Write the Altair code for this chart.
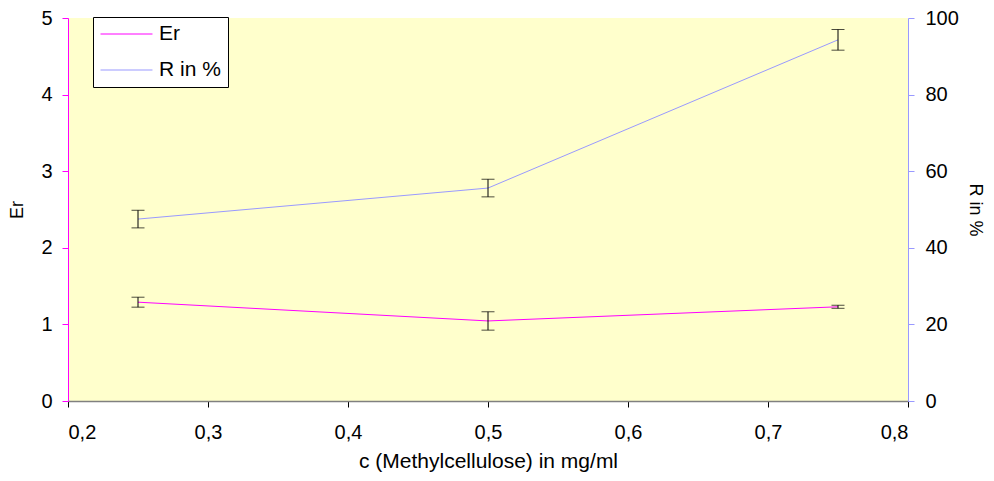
import altair as alt
import pandas as pd

conc = [0.25, 0.5, 0.75]
er_vals = [1.29, 1.045, 1.23]
er_err = [0.065, 0.12, 0.02]
r_vals = [47.5, 55.6, 94.3]
r_err = [2.3, 2.3, 2.7]
x_ticks = [0.2, 0.3, 0.4, 0.5, 0.6, 0.7, 0.8]
er_ticks = [0, 1, 2, 3, 4, 5]
r_ticks = [0, 20, 40, 60, 80, 100]
series = ["Er", "R in %"]
colors = ["#FF00FF", "#9999FF"]

FONT = "Liberation Sans"
FS = 20

er_df = pd.DataFrame({
    "c": conc, "v": er_vals,
    "lo": [v - e for v, e in zip(er_vals, er_err)],
    "hi": [v + e for v, e in zip(er_vals, er_err)],
    "series": series[0],
})
r_df = pd.DataFrame({
    "c": conc, "v": r_vals,
    "lo": [v - e for v, e in zip(r_vals, r_err)],
    "hi": [v + e for v, e in zip(r_vals, r_err)],
    "series": series[1],
})

xenc = alt.X("c:Q", scale=alt.Scale(domain=[0.2, 0.8], nice=False),
             axis=alt.Axis(values=x_ticks, title="c (Methylcellulose) in mg/ml",
                           labelExpr="replace(format(datum.value, '.1f'), '.', ',')",
                           grid=False, domainColor="#808080", domainWidth=1.5,
                           tickColor="#000000", tickSize=6, titleFontSize=21,
                           labelPadding=15, titlePadding=8))

color = alt.Color("series:N",
                  scale=alt.Scale(domain=series, range=colors),
                  legend=alt.Legend(orient="none", legendX=25, legendY=-1,
                                    title=None, fillColor="white", strokeColor="black",
                                    padding=7, symbolType="stroke", symbolSize=2700,
                                    symbolStrokeWidth=1, labelFontSize=21,
                                    labelFont=FONT, labelColor="black",
                                    clipHeight=20, rowPadding=15, labelOffset=6))


def build(df, domain, ticks, title, axcol, orient, labpad, titpad):
    yscale = alt.Scale(domain=domain, nice=False)
    yaxis = alt.Axis(values=ticks, title=title, orient=orient, grid=False,
                     domainColor=axcol, tickColor=axcol, tickSize=6,
                     labelPadding=labpad, titlePadding=titpad, format="d",
                     titleFontSize=18)
    base = alt.Chart(df)
    line = base.mark_line(strokeWidth=1).encode(
        x=xenc, y=alt.Y("v:Q", scale=yscale, axis=yaxis), color=color)
    rule = base.mark_rule(color="black", strokeWidth=1).encode(
        x="c:Q", y=alt.Y("lo:Q", scale=yscale), y2="hi:Q")
    tlo = base.mark_tick(orient="horizontal", size=13, thickness=1, color="black").encode(
        x="c:Q", y=alt.Y("lo:Q", scale=yscale))
    thi = base.mark_tick(orient="horizontal", size=13, thickness=1, color="black").encode(
        x="c:Q", y=alt.Y("hi:Q", scale=yscale))
    return alt.layer(line, rule, tlo, thi)


left = build(er_df, [0, 5], er_ticks, "Er", "#FF00FF", "left", 10, 14)
right = build(r_df, [0, 100], r_ticks, "R in %", "#9999FF", "right", 11, 7)

chart = alt.layer(left, right).resolve_scale(y="independent").properties(
    width=840, height=383,
    autosize=alt.AutoSizeParams(type="none"),
    padding={"left": 60, "top": 10, "right": 78, "bottom": 72},
    background="white",
).configure_view(fill="#FFFFCC", stroke=None).configure_axis(
    labelFont=FONT, titleFont=FONT, labelFontSize=FS, titleFontSize=FS,
    titleFontWeight="normal", labelColor="black", titleColor="black",
)

chart.save("out.html", embed_options={"renderer": "svg", "actions": False})
